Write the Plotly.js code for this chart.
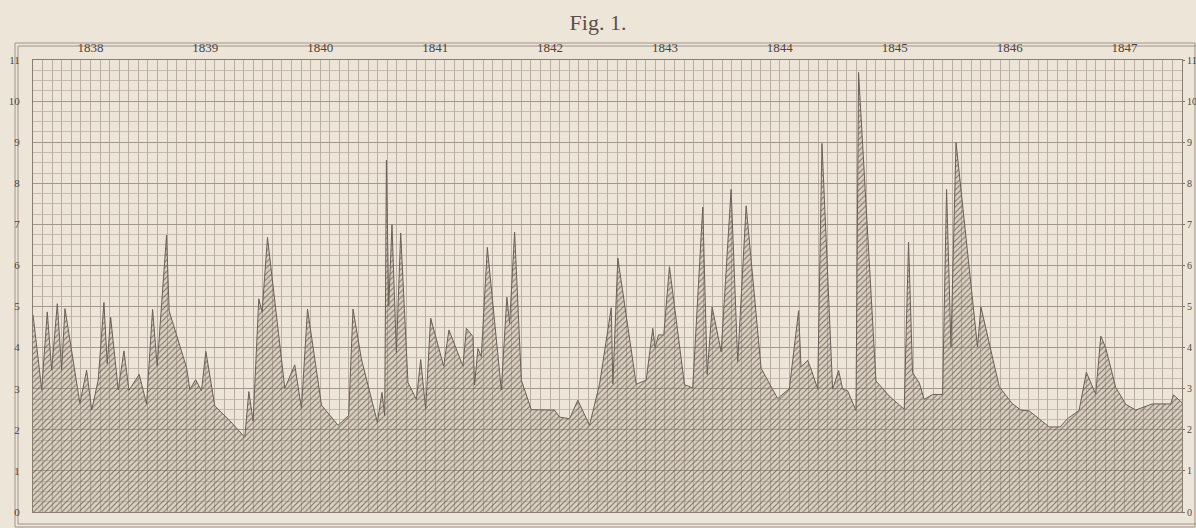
<!DOCTYPE html>
<html>
<head>
<meta charset="utf-8">
<script src="https://cdn.plot.ly/plotly-3.0.1.min.js"></script>
<style>
  html, body { margin: 0; padding: 0; background: #ede5d8; }
  #chart { width: 1196px; height: 528px; }
</style>
</head>
<body>
<div id="chart"></div>
<script>
// x position in months counted from January 1838 (0 .. 120)
const months = [
  0, 0.91, 1.49, 1.95, 2.54, 2.99, 3.34, 4.90, 5.60, 6.13, 6.81, 7.41, 7.75, 8.11, 8.90, 9.50,
  10.02, 11.09, 11.86, 12.49, 12.97, 13.95, 14.22, 16.04, 16.38, 16.98, 17.60, 18.05, 18.99,
  20.56, 22.12, 22.54, 22.99, 23.58, 23.93, 24.49, 26.30, 27.34, 28.04, 28.67, 30.13, 31.86,
  32.97, 33.42, 34.30, 35.97, 36.45, 36.73, 36.91, 37.15, 37.49, 37.95, 38.40, 39.16, 40.04,
  40.49, 41.01, 41.53, 42.89, 43.44, 44.90, 45.26, 45.95, 46.12, 46.47, 46.82, 47.45, 48.91,
  49.49, 49.78, 50.30, 51.00, 52.04, 54.47, 54.99, 56.04, 56.90, 58.12, 59.17, 60.39, 60.56,
  61.08, 63.00, 64.04, 64.73, 64.98, 65.32, 65.88, 66.47, 68.04, 68.90, 69.95, 70.41, 70.93,
  71.87, 72.91, 73.60, 74.48, 76.04, 77.77, 78.99, 79.96, 80.21, 80.90, 81.30, 81.95, 82.40,
  83.51, 84.14, 84.56, 85.08, 85.95, 86.22, 88.04, 89.43, 90.99, 91.44, 91.86, 92.56, 93.08,
  93.95, 95.00, 95.41, 95.87, 96.40, 98.64, 99.00, 100.91, 102.26, 103.17, 104.04, 106.13,
  107.27, 108.03, 109.25, 110.01, 110.99, 111.52, 112.02, 113.08, 114.13, 115.17, 116.90,
  118.82, 119.11, 120
];
const levels = [
  4.80, 2.98, 4.87, 3.46, 5.07, 3.46, 4.95, 2.64, 3.45, 2.48, 3.21, 5.10, 3.61, 4.74, 2.97, 3.92,
  2.96, 3.35, 2.63, 4.93, 3.56, 6.74, 4.89, 3.51, 2.98, 3.22, 2.95, 3.91, 2.58,
  2.22, 1.82, 2.93, 2.21, 5.19, 4.87, 6.68, 3.01, 3.58, 2.52, 4.94, 2.60, 2.11,
  2.35, 4.94, 3.72, 2.18, 2.91, 2.34, 8.56, 5.01, 6.99, 3.88, 6.79, 3.15, 2.74,
  3.71, 2.50, 4.72, 3.55, 4.43, 3.55, 4.47, 4.27, 3.09, 3.98, 3.78, 6.44, 2.97,
  5.23, 4.59, 6.81, 3.21, 2.49, 2.48, 2.31, 2.27, 2.72, 2.11, 3.11, 4.97, 3.11,
  6.18, 3.11, 3.21, 4.47, 3.99, 4.31, 4.31, 5.97, 3.10, 3.02, 7.42, 3.35, 4.99,
  3.90, 7.85, 3.66, 7.45, 3.50, 2.76, 3.00, 4.90, 3.53, 3.69, 3.45, 3.00, 8.97,
  2.99, 3.44, 2.99, 2.95, 2.47, 10.70, 3.19, 2.82, 2.50, 6.57, 3.39, 3.14, 2.74,
  2.86, 2.86, 7.85, 4.02, 8.99, 4.02, 4.99, 3.05, 2.64, 2.48, 2.46, 2.07,
  2.07, 2.27, 2.47, 3.40, 2.87, 4.28, 4.00, 3.03, 2.62, 2.48, 2.63,
  2.63, 2.85, 2.66
];
const yearLabels = ['1838','1839','1840','1841','1842','1843','1844','1845','1846','1847'];
const yearCenters = yearLabels.map((_, i) => i * 12 + 6);
const yTicks = [0,1,2,3,4,5,6,7,8,9,10,11];

const serif = '"Liberation Serif", "DejaVu Serif", serif';
const ink = '#4e463e';

const traces = [
  {
    x: months, y: levels, type: 'scatter', mode: 'lines',
    fill: 'tozeroy',
    fillcolor: 'rgba(160,145,125,0.28)',
    fillpattern: { shape: '/', size: 4, solidity: 0.28,
                   fgcolor: 'rgba(85,75,65,0.70)', bgcolor: 'rgba(170,155,135,0.26)' },
    line: { color: '#6a6057', width: 1 },
    hoverinfo: 'skip', showlegend: false
  },
  {
    x: [0, 120], y: [0, 11], type: 'scatter', mode: 'lines', yaxis: 'y2',
    line: { width: 0, color: 'rgba(0,0,0,0)' }, hoverinfo: 'skip', showlegend: false
  }
];

const px2x = p => (p - 33) / 1149;
const px2y = p => (512 - p) / 452;
const borderColor = '#a09489';

const layout = {
  width: 1196, height: 528,
  margin: { l: 33, r: 14, t: 60, b: 16, pad: 0 },
  paper_bgcolor: '#ede5d8',
  plot_bgcolor: '#ede5d8',
  title: { text: 'Fig. 1.', font: { family: serif, size: 22, color: '#5a5048' },
           x: 0.5, xref: 'container', xanchor: 'center',
           y: 0.958, yref: 'container', yanchor: 'middle' },
  xaxis: {
    range: [0, 120], side: 'top',
    tickmode: 'array', tickvals: yearCenters, ticktext: yearLabels,
    ticks: '', showgrid: false, zeroline: false,
    tickfont: { family: serif, size: 13, color: ink },
    ticklabelstandoff: 2,
    showline: true, mirror: true, linecolor: '#8a7e74', linewidth: 1,
    minor: { tickmode: 'linear', tick0: 0, dtick: 1, showgrid: true,
             gridcolor: '#aca095', gridwidth: 0.8, ticks: '' },
    fixedrange: true
  },
  yaxis: {
    range: [0, 11], tickmode: 'array', tickvals: yTicks,
    ticks: '', showgrid: true, gridcolor: '#a3978c', gridwidth: 1,
    zeroline: false,
    tickfont: { family: serif, size: 11, color: ink },
    ticklabelstandoff: 10,
    showline: true, mirror: true, linecolor: '#8a7e74', linewidth: 1,
    minor: { tickmode: 'linear', tick0: 0, dtick: 0.25, showgrid: true,
             gridcolor: '#bbb0a4', gridwidth: 0.8, ticks: '' },
    fixedrange: true
  },
  yaxis2: {
    range: [0, 11], overlaying: 'y', side: 'right',
    tickmode: 'array', tickvals: yTicks,
    ticks: 'outside', ticklen: 2, tickcolor: '#7a6e64', tickwidth: 1,
    showgrid: false, zeroline: false,
    tickfont: { family: serif, size: 10, color: ink },
    ticklabelstandoff: 0,
    fixedrange: true
  },
  shapes: [
    { type: 'rect', xref: 'paper', yref: 'paper',
      x0: px2x(15), x1: px2x(1195), y0: px2y(527), y1: px2y(43),
      line: { color: borderColor, width: 1 }, layer: 'below' },
    { type: 'rect', xref: 'paper', yref: 'paper',
      x0: px2x(18), x1: px2x(1199), y0: px2y(524), y1: px2y(46),
      line: { color: borderColor, width: 1 }, layer: 'below' }
  ],
  showlegend: false
};

Plotly.newPlot('chart', traces, layout, { displayModeBar: false, staticPlot: true });
</script>
</body>
</html>
